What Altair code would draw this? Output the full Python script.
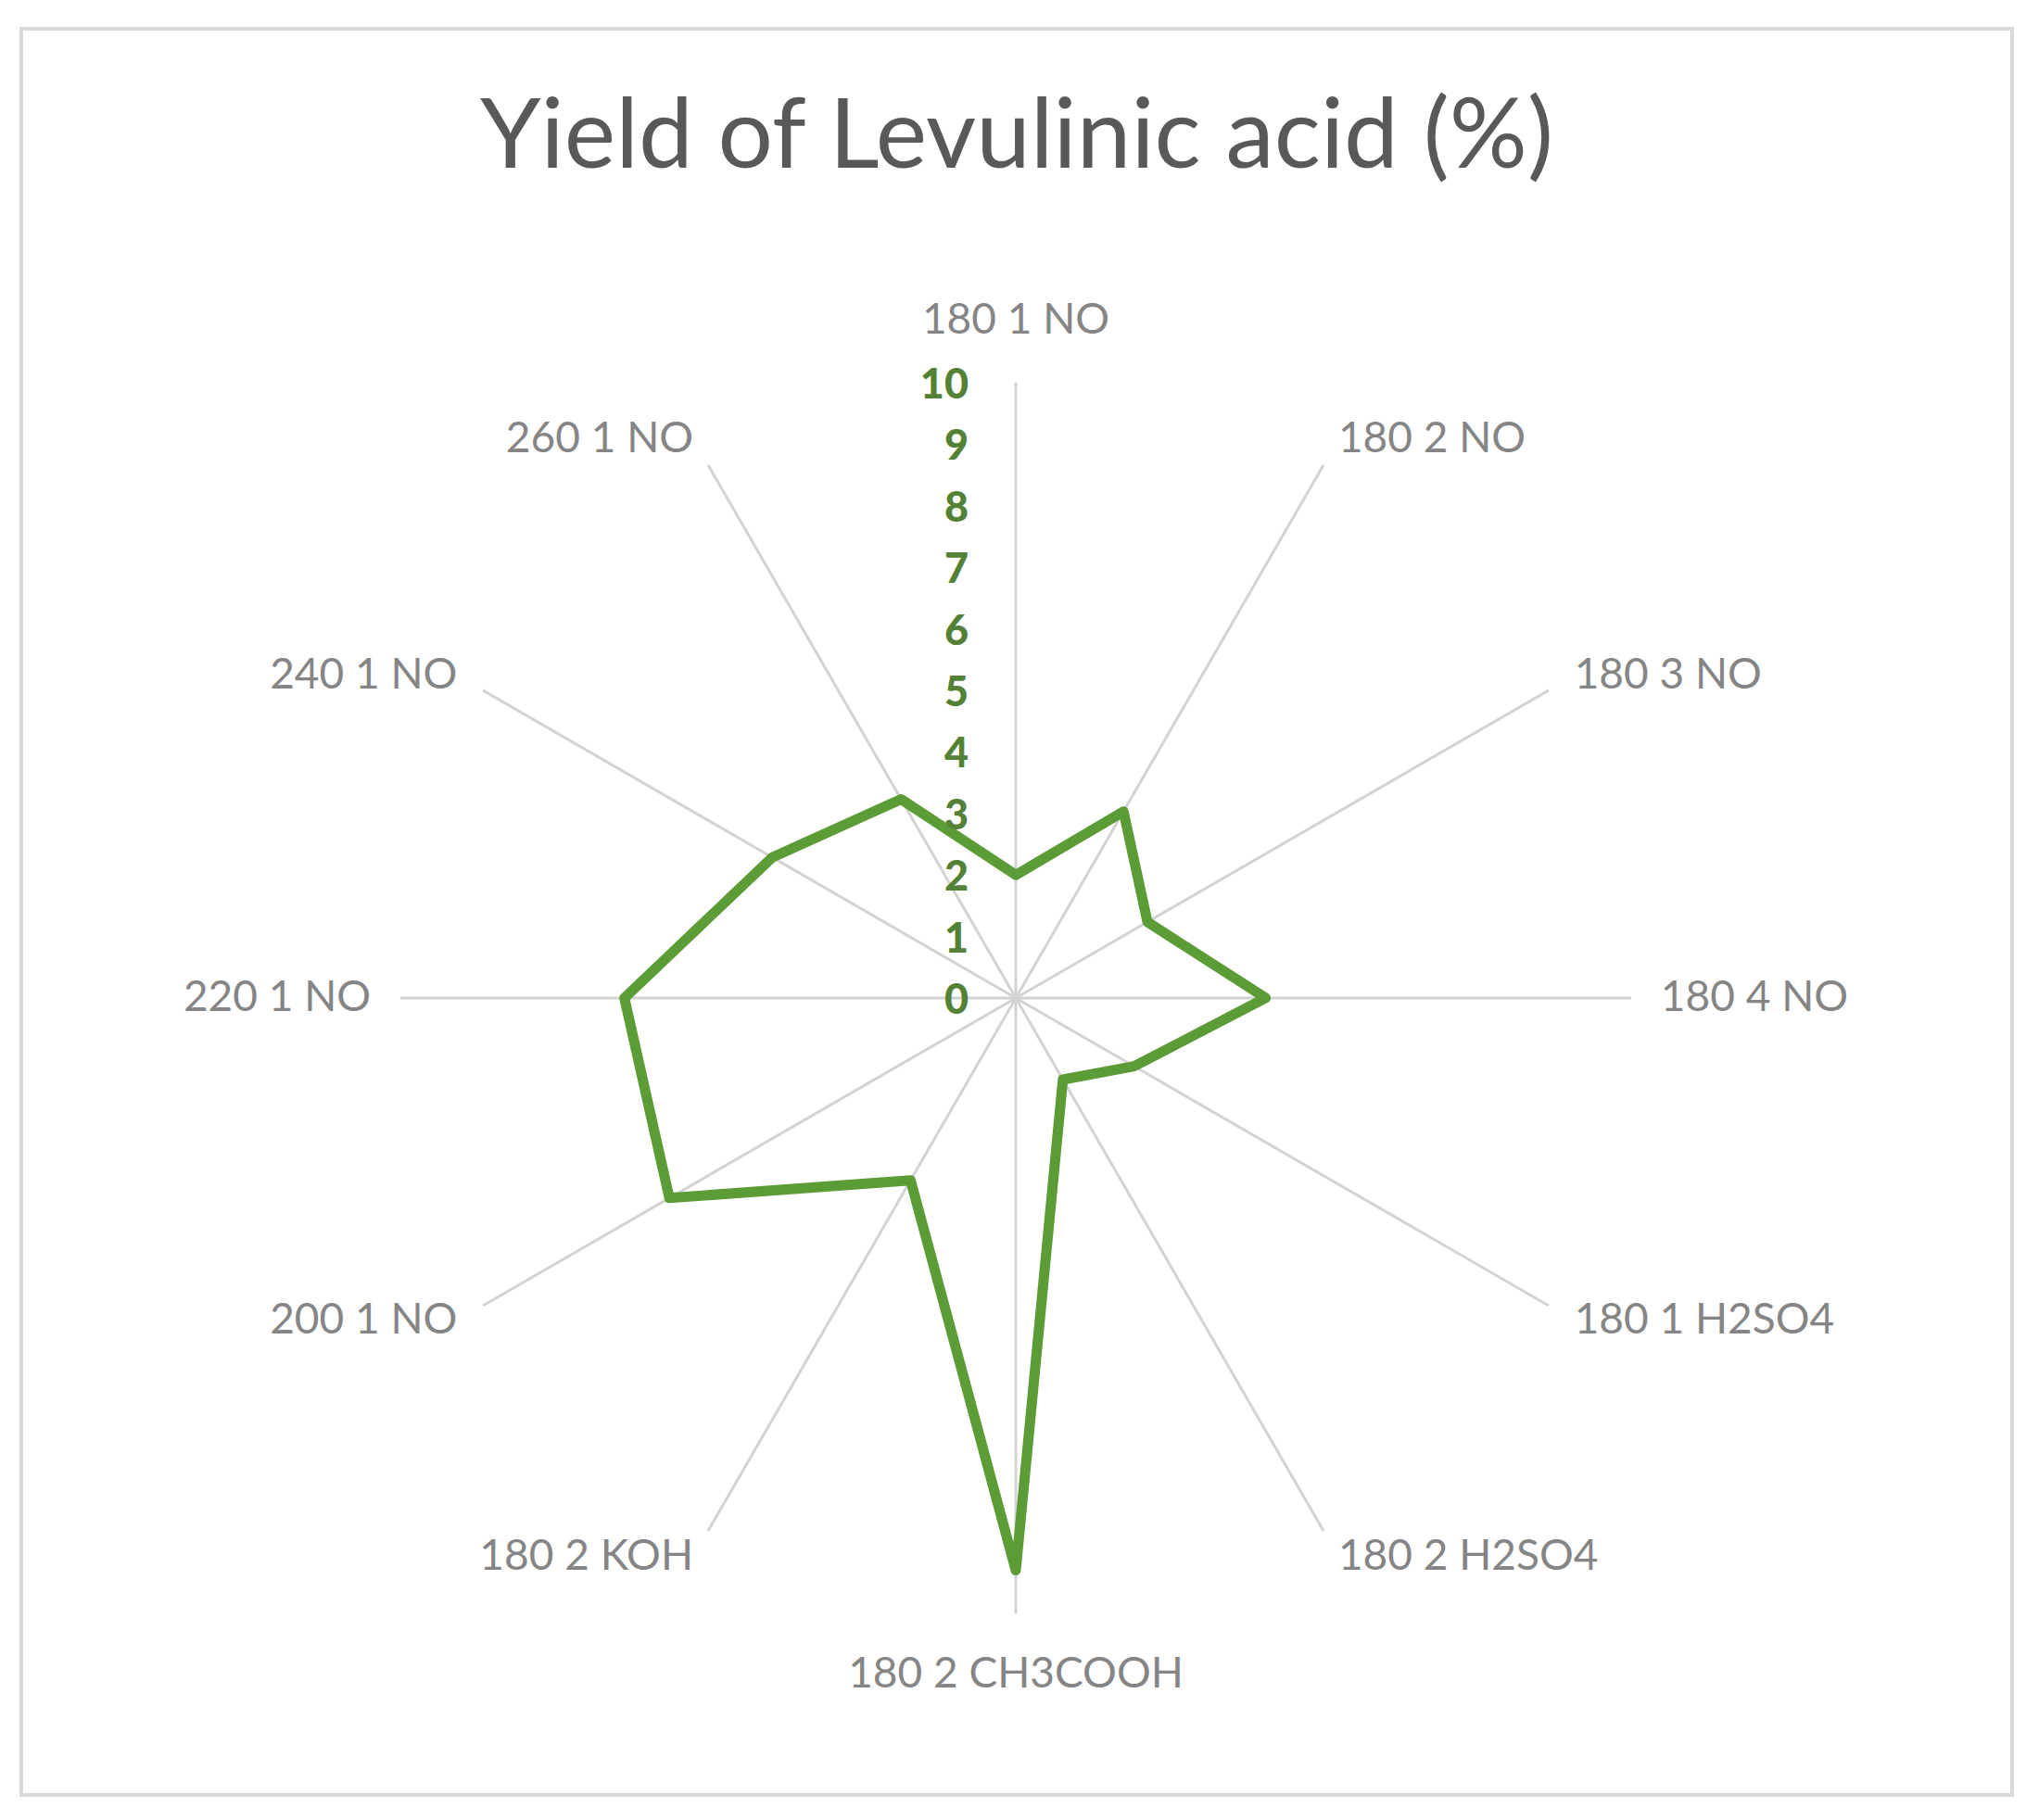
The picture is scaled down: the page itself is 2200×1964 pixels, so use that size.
import altair as alt
import pandas as pd

categories = ["180 1 NO", "180 2 NO", "180 3 NO", "180 4 NO", "180 1 H2SO4", "180 2 H2SO4",
              "180 2 CH3COOH", "180 2 KOH", "200 1 NO", "220 1 NO", "240 1 NO", "260 1 NO"]
yields = [2.0, 3.5, 2.47, 4.06, 2.22, 1.53, 9.3, 3.42, 6.5, 6.36, 4.57, 3.73]
ticks = [0, 1, 2, 3, 4, 5, 6, 7, 8, 9, 10]
r_max = 10
title_text = "Yield of Levulinic acid (%)"

n = len(categories)
df = pd.DataFrame({"category": categories, "value": yields, "idx": list(range(n))})
tick_df = pd.DataFrame({"tick": ticks})

W, H = 2148, 1906
xscale = alt.Scale(domain=[-16.16, 16.19], nice=False, zero=False)
yscale = alt.Scale(domain=[-12.95, 15.75], nice=False, zero=False)

base = alt.Chart(df).transform_calculate(angle=f"datum.idx * 2 * PI / {n}")

spokes = base.transform_calculate(
    x0="0", y0="0",
    x1=f"{r_max} * sin(datum.angle)", y1=f"{r_max} * cos(datum.angle)",
).mark_rule(color="#d3d3d3", strokeWidth=3).encode(
    x=alt.X("x0:Q", scale=xscale, axis=None),
    y=alt.Y("y0:Q", scale=yscale, axis=None),
    x2="x1:Q", y2="y1:Q",
)

line = base.transform_calculate(
    px="datum.value * sin(datum.angle)", py="datum.value * cos(datum.angle)",
).mark_line(color="#5c9c36", strokeWidth=11, interpolate="linear-closed", strokeJoin="round").encode(
    x=alt.X("px:Q", scale=xscale, axis=None),
    y=alt.Y("py:Q", scale=yscale, axis=None),
    order="idx:Q",
)

lab_base = base.transform_calculate(
    rr="abs(sin(datum.angle)) < 0.01 ? 11 : 10.48",
).transform_calculate(
    lx="datum.rr * sin(datum.angle)", ly="datum.rr * cos(datum.angle)",
    side="abs(sin(datum.angle)) < 0.01 ? 'c' : (sin(datum.angle) > 0 ? 'r' : 'l')",
)
lab_style = dict(font="Lato", fontSize=46, color="#858585", baseline="middle")
lab_enc = dict(x=alt.X("lx:Q", scale=xscale, axis=None),
               y=alt.Y("ly:Q", scale=yscale, axis=None),
               text="category:N")
lab_r = lab_base.transform_filter("datum.side == 'r'").mark_text(align="left", **lab_style).encode(**lab_enc)
lab_l = lab_base.transform_filter("datum.side == 'l'").mark_text(align="right", **lab_style).encode(**lab_enc)
lab_c = lab_base.transform_filter("datum.side == 'c'").mark_text(align="center", **lab_style).encode(**lab_enc)

tick_text = alt.Chart(tick_df).transform_calculate(zero="0").mark_text(
    align="right", baseline="middle", dx=-51, dy=3, font="Lato", fontWeight=900,
    fontSize=45, color="#538135",
).encode(
    x=alt.X("zero:Q", scale=xscale, axis=None),
    y=alt.Y("tick:Q", scale=yscale, axis=None),
    text="tick:Q",
)

chart = alt.layer(spokes, line, lab_r, lab_l, lab_c, tick_text).properties(
    width=W, height=H,
    title=alt.TitleParams(title_text, font="Lato", fontSize=105, fontWeight="normal",
                          color="#595959", anchor="middle", offset=-172),
    autosize=alt.AutoSizeParams(type="none"),
    padding={"left": 15, "top": 23, "right": 15, "bottom": 15},
    background="white",
).configure_view(stroke="#d9d9d9", strokeWidth=4)

chart.save("out.html", embed_options={"renderer": "svg", "actions": False})
